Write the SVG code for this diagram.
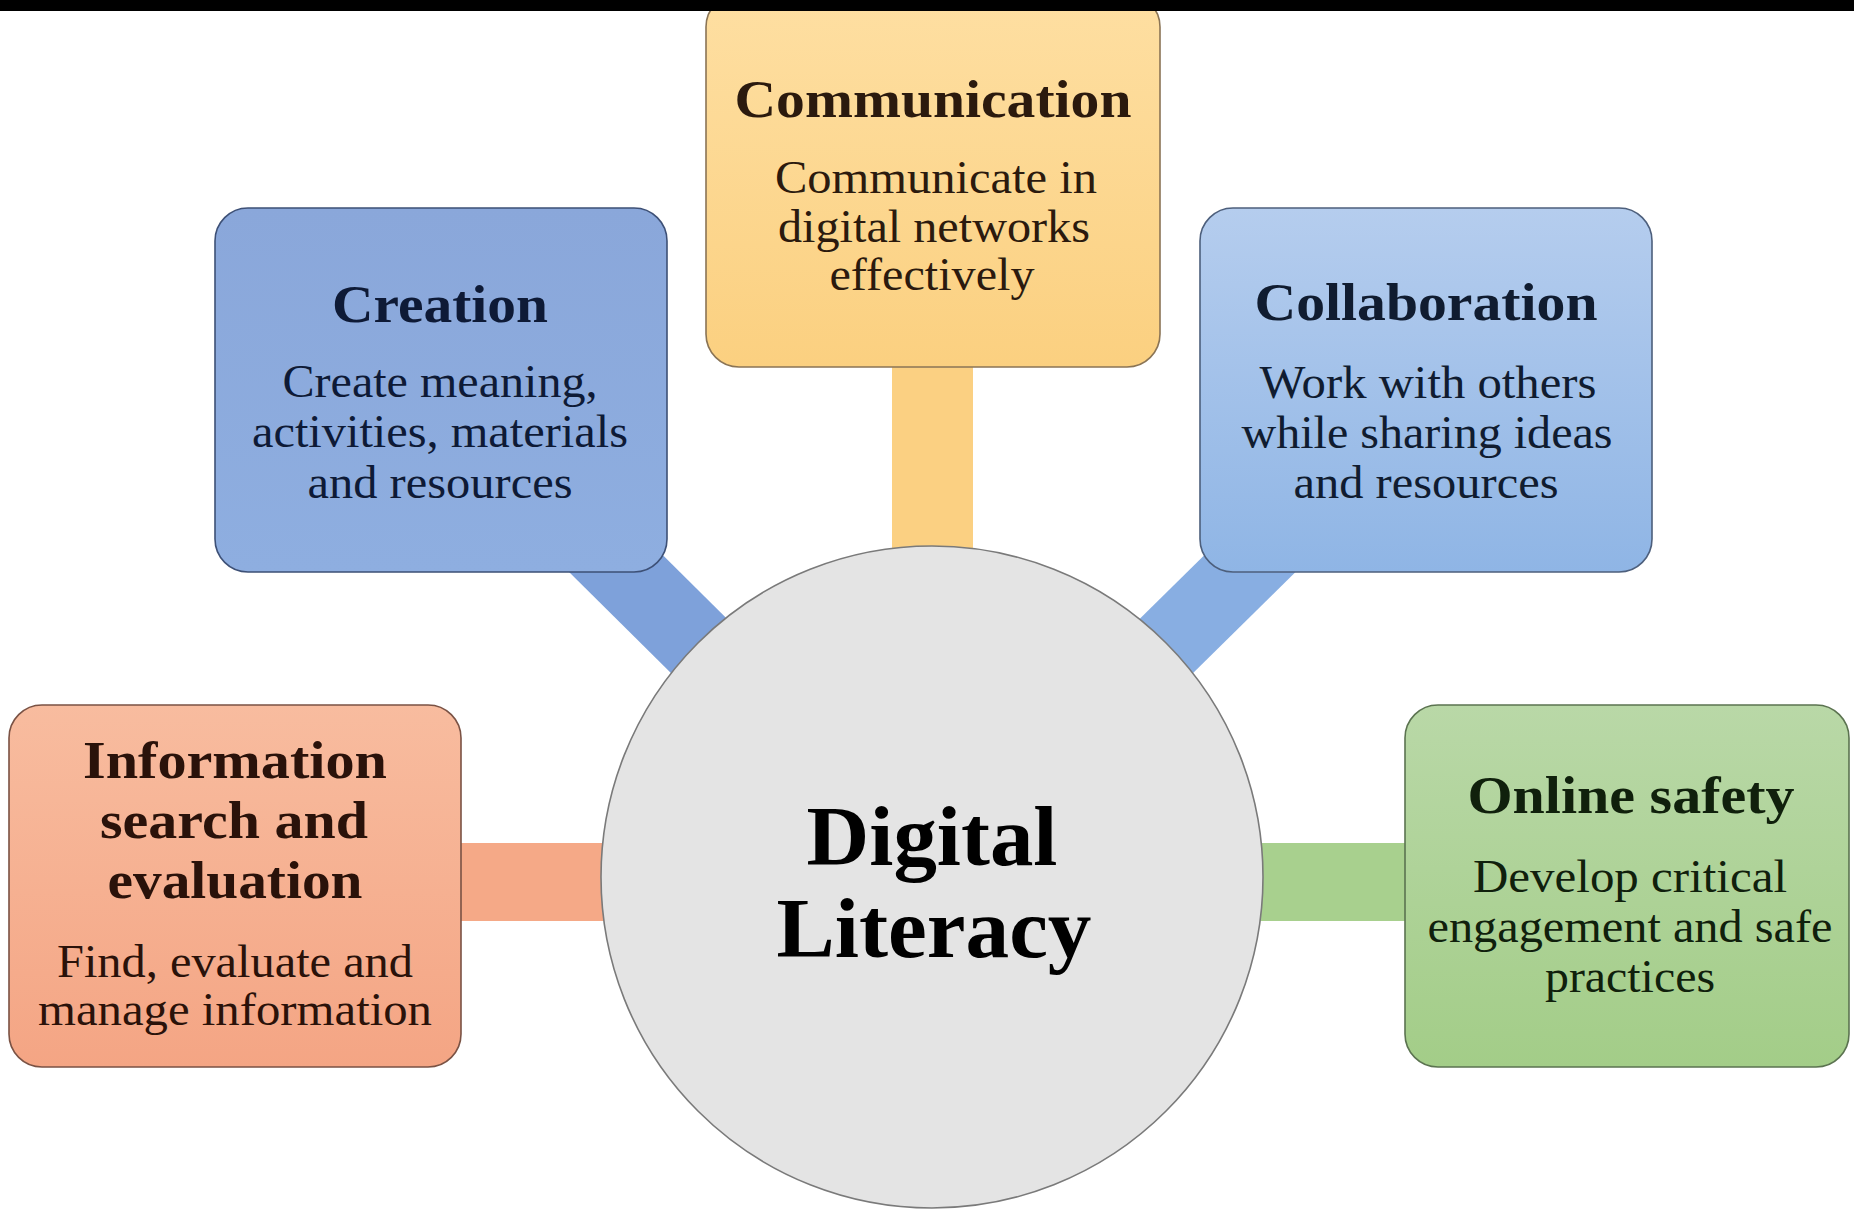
<svg xmlns="http://www.w3.org/2000/svg" width="1854" height="1210" viewBox="0 0 1854 1210">
  <defs>
    <linearGradient id="gYellow" x1="0" y1="0" x2="0" y2="1">
      <stop offset="0" stop-color="#fedfa2"/>
      <stop offset="1" stop-color="#fbd080"/>
    </linearGradient>
    <linearGradient id="gBlue1" x1="0" y1="0" x2="0" y2="1">
      <stop offset="0" stop-color="#8aa7da"/>
      <stop offset="1" stop-color="#8eaee0"/>
    </linearGradient>
    <linearGradient id="gBlue2" x1="0" y1="0" x2="0" y2="1">
      <stop offset="0" stop-color="#b5cdee"/>
      <stop offset="1" stop-color="#8fb5e5"/>
    </linearGradient>
    <linearGradient id="gSalmon" x1="0" y1="0" x2="0" y2="1">
      <stop offset="0" stop-color="#f8bc9f"/>
      <stop offset="1" stop-color="#f4a584"/>
    </linearGradient>
    <linearGradient id="gGreen" x1="0" y1="0" x2="0" y2="1">
      <stop offset="0" stop-color="#b9d8a7"/>
      <stop offset="1" stop-color="#a3cd88"/>
    </linearGradient>
    <style>
      .box { stroke-width: 1.6; }
      .title { font-family: "Liberation Serif", "Times New Roman", serif; font-weight: bold; font-size: 53px; text-anchor: middle; }
      .body { font-family: "Liberation Serif", "Times New Roman", serif; font-size: 46px; text-anchor: middle; }
      .center { font-family: "Liberation Serif", "Times New Roman", serif; font-weight: bold; font-size: 84px; text-anchor: middle; fill: #000; }
    </style>
  </defs>

  <rect x="0" y="0" width="1854" height="1210" fill="#ffffff"/>

  <g id="connectors">
    <rect x="892" y="355" width="81" height="210" fill="#fbd082"/>
    <line x1="441" y1="390" x2="932" y2="877" stroke="#7ea1da" stroke-width="78"/>
    <line x1="1426" y1="390" x2="932" y2="877" stroke="#88aee2" stroke-width="76"/>
    <rect x="455" y="843" width="160" height="78" fill="#f5a987"/>
    <rect x="1250" y="843" width="160" height="78" fill="#a8d08e"/>
  </g>

  <g id="node-communication">
    <rect class="box" x="706" y="-6" width="454" height="373" rx="33" fill="url(#gYellow)" stroke="#8a7455"/>
    <g fill="#2b1a0e">
      <text class="title" x="933" y="117" textLength="397" lengthAdjust="spacingAndGlyphs">Communication</text>
      <text class="body" x="936" y="193" textLength="322" lengthAdjust="spacingAndGlyphs">Communicate in</text>
      <text class="body" x="934" y="242" textLength="312" lengthAdjust="spacingAndGlyphs">digital networks</text>
      <text class="body" x="932" y="290" textLength="205" lengthAdjust="spacingAndGlyphs">effectively</text>
    </g>
  </g>

  <g id="node-creation">
    <rect class="box" x="215" y="208" width="452" height="364" rx="33" fill="url(#gBlue1)" stroke="#3d5076"/>
    <g fill="#0e1a36">
      <text class="title" x="440" y="322" textLength="216" lengthAdjust="spacingAndGlyphs">Creation</text>
      <text class="body" x="440" y="397" textLength="315" lengthAdjust="spacingAndGlyphs">Create meaning,</text>
      <text class="body" x="440" y="447" textLength="376" lengthAdjust="spacingAndGlyphs">activities, materials</text>
      <text class="body" x="440" y="498" textLength="265" lengthAdjust="spacingAndGlyphs">and resources</text>
    </g>
  </g>

  <g id="node-collaboration">
    <rect class="box" x="1200" y="208" width="452" height="364" rx="33" fill="url(#gBlue2)" stroke="#4d5f7c"/>
    <g fill="#101c30">
      <text class="title" x="1426" y="320" textLength="343" lengthAdjust="spacingAndGlyphs">Collaboration</text>
      <text class="body" x="1428" y="398" textLength="337" lengthAdjust="spacingAndGlyphs">Work with others</text>
      <text class="body" x="1427" y="448" textLength="371" lengthAdjust="spacingAndGlyphs">while sharing ideas</text>
      <text class="body" x="1426" y="498" textLength="265" lengthAdjust="spacingAndGlyphs">and resources</text>
    </g>
  </g>

  <g id="node-information">
    <rect class="box" x="9" y="705" width="452" height="362" rx="33" fill="url(#gSalmon)" stroke="#7a5244"/>
    <g fill="#2a120a">
      <text class="title" x="235" y="778" textLength="304" lengthAdjust="spacingAndGlyphs">Information</text>
      <text class="title" x="234" y="838" textLength="268" lengthAdjust="spacingAndGlyphs">search and</text>
      <text class="title" x="235" y="898" textLength="255" lengthAdjust="spacingAndGlyphs">evaluation</text>
      <text class="body" x="235" y="977" textLength="356" lengthAdjust="spacingAndGlyphs">Find, evaluate and</text>
      <text class="body" x="235" y="1025" textLength="394" lengthAdjust="spacingAndGlyphs">manage information</text>
    </g>
  </g>

  <g id="node-online-safety">
    <rect class="box" x="1405" y="705" width="444" height="362" rx="33" fill="url(#gGreen)" stroke="#5b7350"/>
    <g fill="#10200c">
      <text class="title" x="1631" y="813" textLength="327" lengthAdjust="spacingAndGlyphs">Online safety</text>
      <text class="body" x="1630" y="892" textLength="314" lengthAdjust="spacingAndGlyphs">Develop critical</text>
      <text class="body" x="1630" y="942" textLength="405" lengthAdjust="spacingAndGlyphs">engagement and safe</text>
      <text class="body" x="1630" y="992" textLength="170" lengthAdjust="spacingAndGlyphs">practices</text>
    </g>
  </g>

  <g id="node-digital-literacy">
    <circle cx="932" cy="877" r="331" fill="#e4e4e4" stroke="#7a7a7a" stroke-width="1.6"/>
    <text class="center" x="932" y="865" textLength="251" lengthAdjust="spacingAndGlyphs">Digital</text>
    <text class="center" x="934" y="957" textLength="315" lengthAdjust="spacingAndGlyphs">Literacy</text>
  </g>

  <rect x="0" y="0" width="1854" height="11" fill="#000000"/>
</svg>
